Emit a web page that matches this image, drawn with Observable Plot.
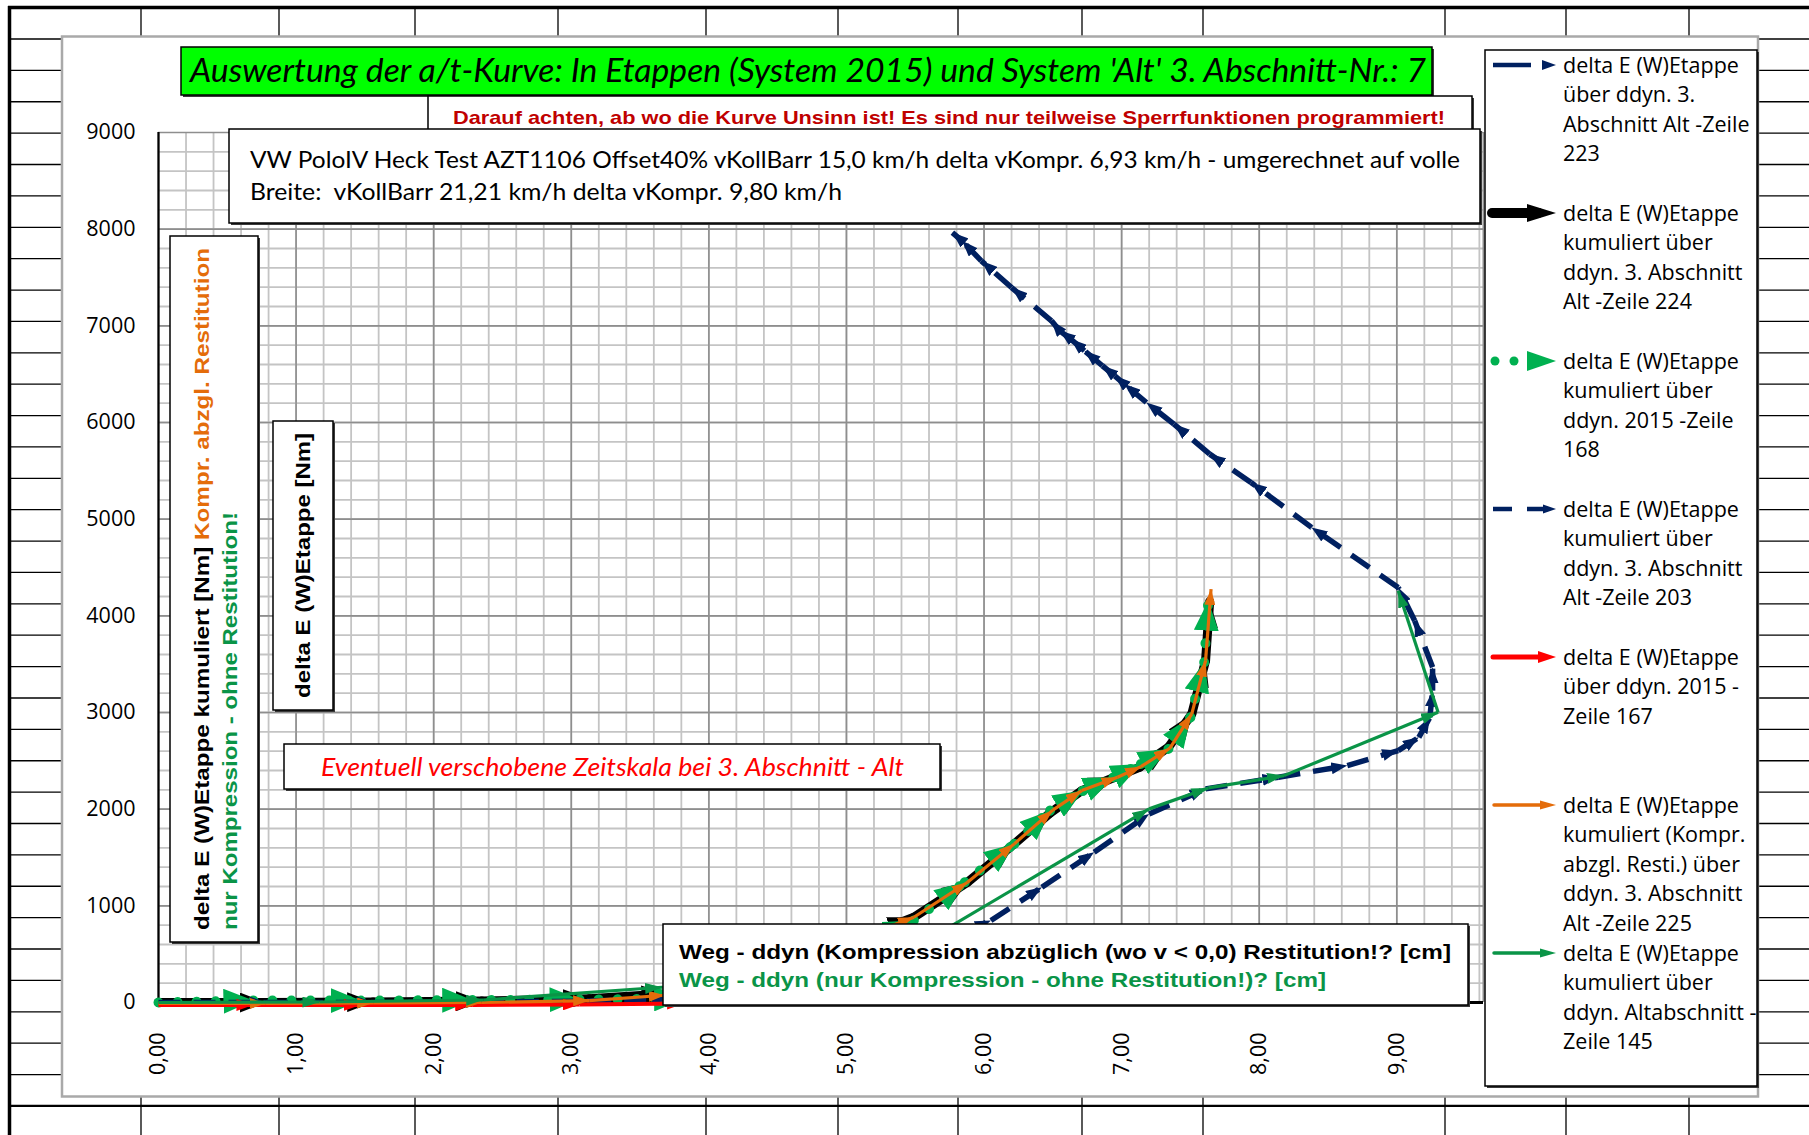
<!DOCTYPE html>
<html><head><meta charset="utf-8">
<script src="https://cdn.jsdelivr.net/npm/d3@7"></script>
<script src="https://cdn.jsdelivr.net/npm/@observablehq/plot@0.6"></script>
<style>html,body{margin:0;padding:0;overflow:hidden;background:#fff}</style>
</head><body><div id="chart"></div>
<script>
// ---------------- DATA ----------------
const xTicks = [0, 1, 2, 3, 4, 5, 6, 7, 8, 9];
const yTicks = [0, 1000, 2000, 3000, 4000, 5000, 6000, 7000, 8000, 9000];
const xMax = 9.63;

// 1: delta E (W)Etappe über ddyn. 3. Abschnitt Alt -Zeile 223
const s1x = [0, 0.78, 1.56, 2.35, 3.13, 3.70, 4.30, 4.90, 5.49, 5.88, 6.22, 6.48, 6.71, 6.95, 7.13, 7.34, 7.51, 7.61, 7.64];
const s1y = [0, 0, 5, 10, 25, 50, 210, 260, 322, 362, 397, 319, 232, 138, 103, 207, 345, 551, 614];
// 2: delta E (W)Etappe kumuliert über ddyn. 3. Abschnitt Alt -Zeile 224
const s2x = [0, 0.78, 1.56, 2.35, 3.13, 3.70, 4.30, 4.90, 5.49, 5.88, 6.22, 6.48, 6.71, 6.95, 7.13, 7.34, 7.51, 7.61, 7.64];
const s2y = [0, 0, 5, 15, 40, 90, 300, 560, 882, 1244, 1641, 1960, 2192, 2330, 2433, 2640, 2985, 3536, 4150];
// 3: delta E (W)Etappe kumuliert über ddyn. 2015 -Zeile 168
const s3x = [0, 0.69, 1.47, 2.28, 3.06, 3.82, 4.45, 5.00, 5.49, 5.86, 6.22, 6.48, 6.72, 6.94, 7.14, 7.34, 7.50, 7.60, 7.63];
const s3y = [0, 20, 20, 25, 30, 40, 250, 520, 848, 1244, 1641, 1985, 2192, 2330, 2468, 2623, 2950, 3519, 4157];
// 4: delta E (W)Etappe kumuliert über ddyn. 3. Abschnitt Alt -Zeile 203
const s4x = [0, 0.78, 1.56, 2.35, 3.13, 3.70, 4.60, 5.40, 6.05, 6.42, 6.80, 7.20, 7.61, 8.14, 8.64, 9.01, 9.16, 9.24, 9.26, 9.26, 9.13, 9.01, 8.38, 7.94, 7.64, 7.38, 7.18, 7.02, 6.95, 6.86, 6.73, 6.63, 6.55, 6.49, 6.20, 5.98, 5.84, 5.77];
const s4y = [0, 0, 0, 5, 15, 40, 180, 450, 848, 1192, 1554, 1951, 2210, 2330, 2451, 2606, 2743, 2950, 3226, 3467, 3950, 4294, 4915, 5380, 5673, 5984, 6207, 6397, 6483, 6587, 6742, 6863, 6948, 7052, 7396, 7672, 7879, 7965];
// 5: delta E (W)Etappe über ddyn. 2015 - Zeile 167
const s5x = [0, 0.69, 1.47, 2.28, 3.06, 3.82, 4.45, 5.00, 5.49, 5.86, 6.22, 6.48, 6.72, 6.94, 7.14, 7.34, 7.50, 7.60, 7.63];
const s5y = [-25, -25, -25, -25, -20, -10, 170, 250, 268, 396, 397, 344, 207, 138, 138, 155, 327, 569, 638];
// 6: delta E (W)Etappe kumuliert (Kompr. abzgl. Resti.) über ddyn. 3. Abschnitt Alt -Zeile 225
const s6x = [0, 0.78, 1.56, 2.35, 3.13, 3.68, 4.30, 4.90, 5.49, 5.88, 6.22, 6.50, 6.71, 6.97, 7.14, 7.35, 7.51, 7.61, 7.65];
const s6y = [-10, -10, -5, 0, 20, 75, 300, 560, 882, 1244, 1641, 1990, 2192, 2330, 2440, 2630, 2985, 3536, 4277];
// 7: delta E (W)Etappe kumuliert über ddyn. Altabschnitt - Zeile 145
const s7x = [0, 1.17, 2.36, 3.66, 5.00, 7.20, 7.63, 8.18, 9.30, 9.01];
const s7y = [0, 5, 26, 158, 150, 2003, 2220, 2347, 3002, 4260];

const legendLines = [
  ["delta E (W)Etappe", "über ddyn. 3.", "Abschnitt Alt -Zeile", "223"],
  ["delta E (W)Etappe", "kumuliert über", "ddyn. 3. Abschnitt", "Alt -Zeile 224"],
  ["delta E (W)Etappe", "kumuliert über", "ddyn. 2015 -Zeile", "168"],
  ["delta E (W)Etappe", "kumuliert über", "ddyn. 3. Abschnitt", "Alt -Zeile 203"],
  ["delta E (W)Etappe", "über ddyn. 2015 -", "Zeile 167"],
  ["delta E (W)Etappe", "kumuliert (Kompr.", "abzgl. Resti.) über", "ddyn. 3. Abschnitt", "Alt -Zeile 225"],
  ["delta E (W)Etappe", "kumuliert über", "ddyn. Altabschnitt -", "Zeile 145"]
];
const titleText = "Auswertung der a/t-Kurve: In Etappen (System 2015) und System 'Alt' 3. Abschnitt-Nr.: 7";
const noteText = "Darauf achten, ab wo die Kurve Unsinn ist! Es sind nur teilweise Sperrfunktionen programmiert!";
const infoLines = ["VW PoloIV Heck Test AZT1106 Offset40% vKollBarr 15,0 km/h delta vKompr. 6,93 km/h - umgerechnet auf volle",
                   "Breite:  vKollBarr 21,21 km/h delta vKompr. 9,80 km/h"];
const shiftText = "Eventuell verschobene Zeitskala bei 3. Abschnitt - Alt";
const yLab1a = "delta E (W)Etappe kumuliert [Nm] ", yLab1b = "Kompr. abzgl. Restitution";
const yLab2 = "nur Kompression - ohne Restitution!";
const yLab3 = "delta E (W)Etappe [Nm]";
const xLab1 = "Weg - ddyn (Kompression abzüglich (wo v < 0,0) Restitution!? [cm]";
const xLab2 = "Weg - ddyn (nur Kompression - ohne Restitution!)? [cm]";

// ---------------- STYLE ----------------
const NAVY = "#002060", BLACK = "#000000", GREEN = "#00b050", RED = "#ff0000", ORANGE = "#e46c0a", GREEN2 = "#0a9447";
const arrowSize = {
  [NAVY]: [16, 12], [BLACK]: [26, 20], [GREEN]: [30, 25], [RED]: [17, 12], [ORANGE]: [16, 11], [GREEN2]: [17, 11]
};
const segs = (xs, ys) => d3.pairs(d3.zip(xs, ys)).map(([a, b]) => ({x1: a[0], y1: a[1], x2: b[0], y2: b[1]}));
const L = (o) => Object.assign({x1: "x1", y1: "y1", x2: "x2", y2: "y2", markerEnd: "arrow"}, o);

const xMinor = d3.range(1, 49).map(i => i * 0.2);
const yMinor = d3.range(1, 45).map(i => i * 200);

const chart = Plot.plot({
  width: 1809, height: 1135,
  marginLeft: 158, marginRight: 1809 - 1483, marginTop: 132, marginBottom: 1135 - 1002,
  style: {fontFamily: "'Open Sans', sans-serif", fontSize: "21.5px", color: "#000", background: "transparent", overflow: "visible"},
  x: {domain: [0, xMax], ticks: xTicks, tickFormat: d => d.toFixed(2).replace(".", ","), tickRotate: -90, tickSize: 0, tickPadding: 30, label: null},
  y: {domain: [0, 9000], ticks: yTicks, tickFormat: d => String(d), tickSize: 0, tickPadding: 23, label: null},
  marks: [
    Plot.ruleX(xMinor, {stroke: "#c4c4c4", strokeWidth: 1.8}),
    Plot.ruleY(yMinor, {stroke: "#c4c4c4", strokeWidth: 1.8}),
    Plot.ruleX(xTicks, {stroke: "#8e8e8e", strokeWidth: 1.6}),
    Plot.ruleY(yTicks, {stroke: "#8e8e8e", strokeWidth: 1.6}),
    Plot.ruleX([xMax], {stroke: "#8e8e8e", strokeWidth: 2}),
    Plot.ruleX([0], {stroke: "#000", strokeWidth: 2.2}),
    Plot.ruleY([0], {stroke: "#000", strokeWidth: 3}),
    Plot.link(segs(s1x, s1y), L({stroke: NAVY, strokeWidth: 4})),
    Plot.link(segs(s2x, s2y), L({stroke: BLACK, strokeWidth: 9, strokeLinecap: "round"})),
    Plot.link(segs(s3x, s3y), L({stroke: GREEN, strokeWidth: 10, strokeDasharray: "0.01 19", strokeLinecap: "round"})),
    Plot.link(segs(s4x, s4y), L({stroke: NAVY, strokeWidth: 5.5, strokeDasharray: "22 13"})),
    Plot.link(segs(s5x, s5y), L({stroke: RED, strokeWidth: 4})),
    Plot.link(segs(s6x, s6y), L({stroke: ORANGE, strokeWidth: 3.2})),
    Plot.link(segs(s7x, s7y), L({stroke: GREEN2, strokeWidth: 3.2}))
  ]
});
document.getElementById("chart").appendChild(chart);

// filled Excel-like arrowheads
chart.querySelectorAll("marker").forEach(m => {
  const c = (m.getAttribute("stroke") || "").toLowerCase();
  const s = arrowSize[c] || [14, 10];
  m.setAttribute("viewBox", "-10 -5 10 10");
  m.setAttribute("refX", 0); m.setAttribute("refY", 0);
  m.setAttribute("markerUnits", "userSpaceOnUse");
  m.setAttribute("markerWidth", s[0]); m.setAttribute("markerHeight", s[1]);
  m.setAttribute("preserveAspectRatio", "none");
  m.setAttribute("orient", "auto");
  m.setAttribute("fill", c); m.setAttribute("stroke", "none");
  m.innerHTML = '<path d="M0,0L-10,-5L-10,5Z"/>';
});

const svg = d3.select(chart);
// ---------- background: spreadsheet + chart area ----------
const bg = svg.insert("g", ":first-child");
bg.append("rect").attr("width", 1809).attr("height", 1135).attr("fill", "#fff");
d3.range(35).forEach(k => bg.append("line").attr("x1", 9).attr("x2", 1809).attr("y1", 39 + k * 31.38).attr("y2", 39 + k * 31.38).attr("stroke", "#000").attr("stroke-width", k === 34 ? 2.2 : 1.3));
[141, 279, 415, 558, 706, 838, 958, 1082, 1203, 1445, 1566, 1689].forEach(x => bg.append("line").attr("x1", x).attr("x2", x).attr("y1", 7).attr("y2", 1135).attr("stroke", "#000").attr("stroke-width", 1.3));
bg.append("line").attr("x1", 8).attr("x2", 1809).attr("y1", 7.5).attr("y2", 7.5).attr("stroke", "#000").attr("stroke-width", 3.5);
bg.append("line").attr("x1", 9.5).attr("x2", 9.5).attr("y1", 6).attr("y2", 1135).attr("stroke", "#000").attr("stroke-width", 3.5);
bg.append("rect").attr("x", 62).attr("y", 36.5).attr("width", 1696).attr("height", 1060).attr("fill", "#fff").attr("stroke", "#a9a9a9").attr("stroke-width", 2.5);

// ---------- annotations ----------
const g = svg.append("g").attr("text-anchor", "start");
function box(x, y, w, h, fill = "#fff") {
  g.append("rect").attr("x", x + 2).attr("y", y + 2).attr("width", w).attr("height", h).attr("fill", "#3a3a3a");
  g.append("rect").attr("x", x).attr("y", y).attr("width", w).attr("height", h).attr("fill", fill).attr("stroke", "#000").attr("stroke-width", 1.5);
}
function txt(x, y, s, font, fill, len) {
  const t = g.append("text").attr("x", x).attr("y", y).attr("dy", "0.35em").attr("text-anchor", "start").style("font", font).attr("fill", fill).text(s);
  if (len) t.attr("textLength", len).attr("lengthAdjust", "spacingAndGlyphs");
  return t;
}
function vtxt(x, y, font, len) {
  return g.append("text").attr("transform", `translate(${x},${y}) rotate(-90)`).attr("dy", "0.35em").attr("text-anchor", "start")
    .style("font", font).attr("textLength", len).attr("lengthAdjust", "spacingAndGlyphs");
}
const BOLD = "bold 21px 'Liberation Sans', Arial, sans-serif";
// title
box(181, 47, 1251, 48, "#00ff00");
txt(190, 71, titleText, "italic 32px Lato, sans-serif", "#000", 1236);
// red note
box(428, 96, 1044, 40);
txt(453, 117, noteText, "bold 19px 'Liberation Sans', Arial, sans-serif", "#c00000", 992);
// info box
box(229, 129, 1251, 94);
txt(250, 160, infoLines[0], "24px Lato, sans-serif", "#000", 1210);
txt(250, 192, infoLines[1], "24px Lato, sans-serif", "#000", 592);
// y label box A
box(170, 236, 88, 706);
const ta = vtxt(202, 930, BOLD, 682);
ta.append("tspan").attr("fill", "#000").text(yLab1a);
ta.append("tspan").attr("fill", ORANGE).text(yLab1b);
vtxt(230, 930, BOLD, 418).attr("fill", GREEN2).text(yLab2);
// y label box B
box(273, 421, 60, 289);
vtxt(303, 698, BOLD, 265).attr("fill", "#000").text(yLab3);
// shifted time scale note
box(284, 744, 656, 45);
txt(321, 767, shiftText, "italic 25px Lato, sans-serif", "#ff0000", 583);
// x label box
box(663, 924, 805, 81);
txt(679, 952, xLab1, BOLD, "#000", 772);
txt(679, 980, xLab2, BOLD, GREEN2, 647);

// ---------- legend ----------
box(1485, 50, 272, 1036);
const legY = [65, 213, 361, 509, 657, 805, 953];
legendLines.forEach((lines, i) => lines.forEach((s, j) =>
  txt(1563, legY[i] + j * 29.5, s, "21.5px 'Open Sans', sans-serif", "#000")));
function legArrow(x1, x2, y, color, w, len, wid, cap) {
  g.append("line").attr("x1", x1).attr("x2", x2 - len * 0.6).attr("y1", y).attr("y2", y).attr("stroke", color).attr("stroke-width", w).attr("stroke-linecap", cap || "butt");
  g.append("path").attr("d", `M${x2},${y}L${x2 - len},${y - wid / 2}L${x2 - len},${y + wid / 2}Z`).attr("fill", color);
}
// 1
g.append("line").attr("x1", 1493).attr("x2", 1531).attr("y1", legY[0]).attr("y2", legY[0]).attr("stroke", NAVY).attr("stroke-width", 4.5);
g.append("path").attr("d", `M1556,${legY[0]}L1542,${legY[0] - 5}L1542,${legY[0] + 5}Z`).attr("fill", NAVY);
// 2
legArrow(1492, 1556, legY[1], BLACK, 10, 29, 18, "round");
// 3
g.append("circle").attr("cx", 1495).attr("cy", legY[2]).attr("r", 4.5).attr("fill", GREEN);
g.append("circle").attr("cx", 1514).attr("cy", legY[2]).attr("r", 4.5).attr("fill", GREEN);
g.append("path").attr("d", `M1556,${legY[2]}L1527,${legY[2] - 10}L1527,${legY[2] + 10}Z`).attr("fill", GREEN);
// 4
g.append("line").attr("x1", 1493).attr("x2", 1512).attr("y1", legY[3]).attr("y2", legY[3]).attr("stroke", NAVY).attr("stroke-width", 4.5);
legArrow(1527, 1556, legY[3], NAVY, 4.5, 13, 9);
// 5
legArrow(1493, 1556, legY[4], RED, 5, 18, 12, "round");
// 6
legArrow(1494, 1556, legY[5], ORANGE, 3.5, 16, 9, "round");
// 7
legArrow(1494, 1556, legY[6], GREEN2, 3.5, 16, 9, "round");
</script></body></html>
